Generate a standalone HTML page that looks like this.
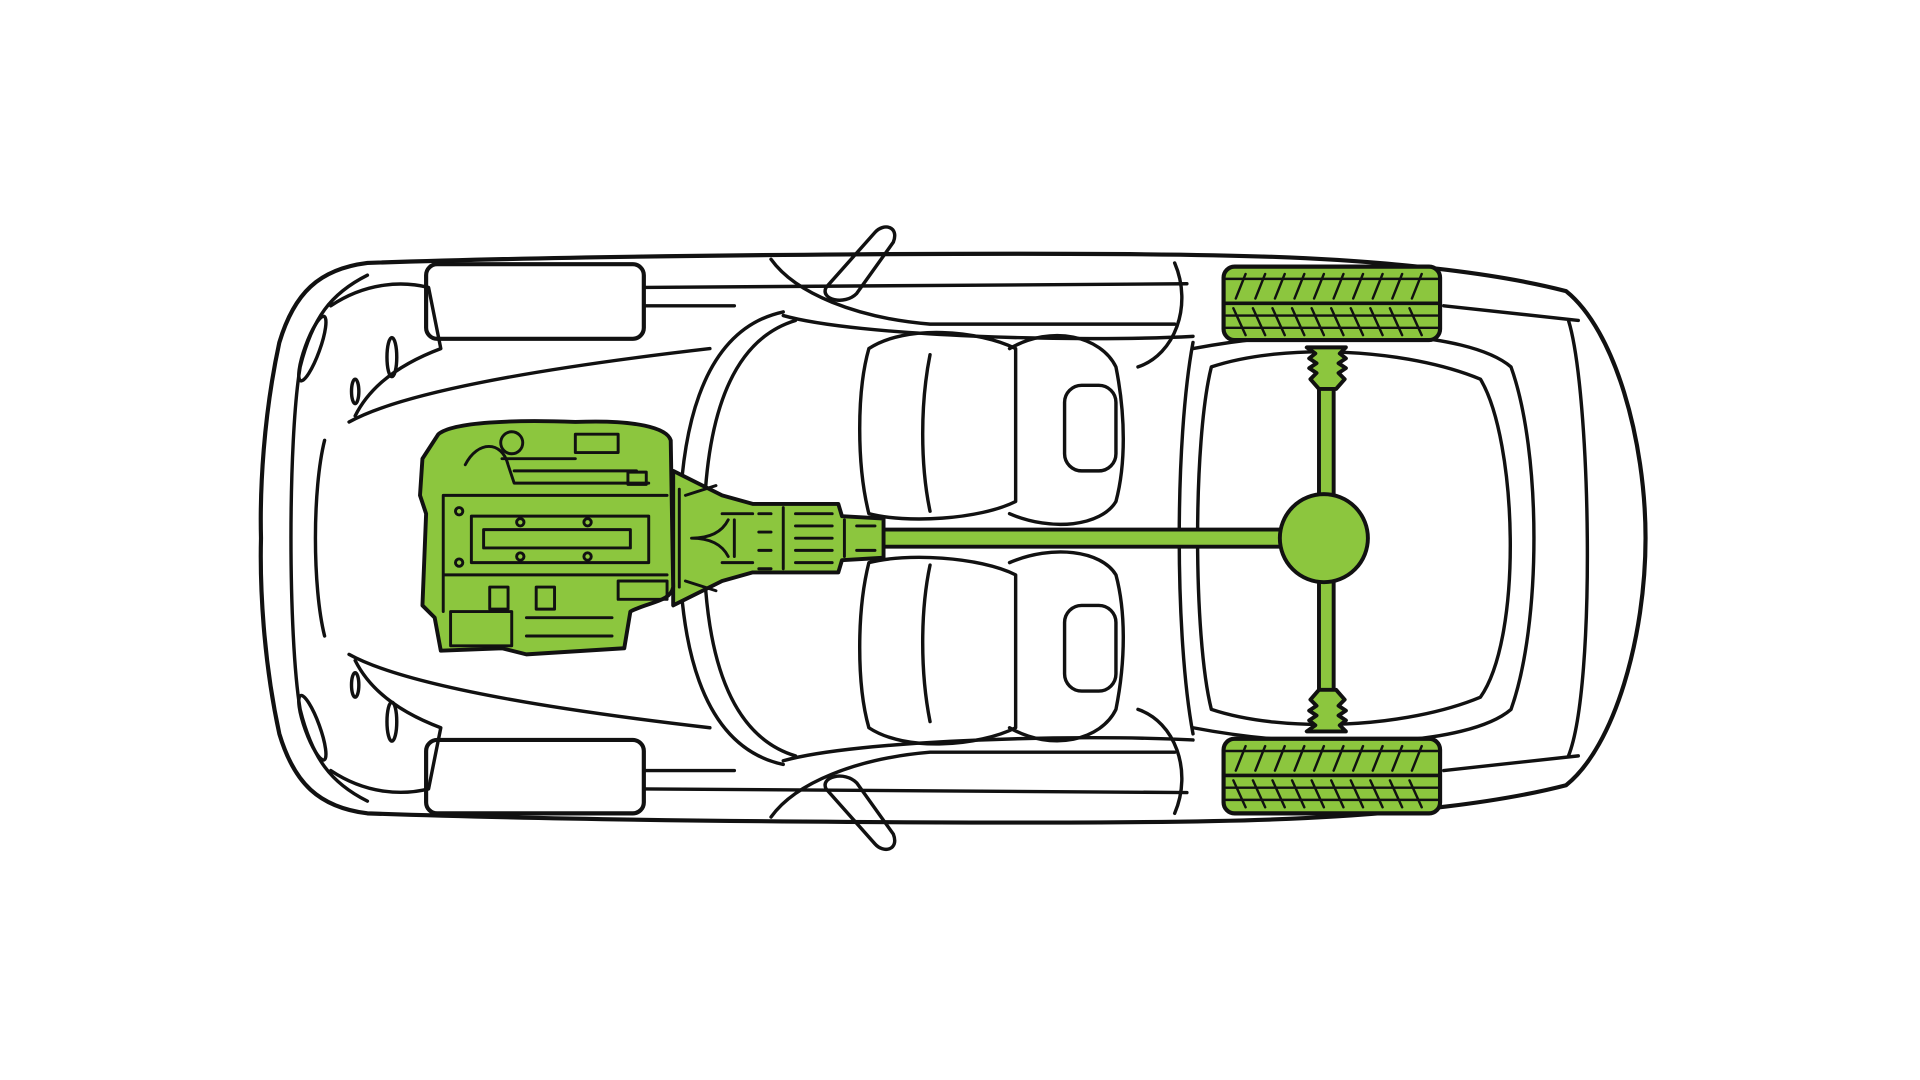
<!DOCTYPE html>
<html><head><style>html,body{margin:0;padding:0;background:#fff;width:1920px;height:1080px;overflow:hidden}</style></head>
<body>
<svg width="1920" height="1080" viewBox="0 0 1569 883" xmlns="http://www.w3.org/2000/svg" fill="none" stroke="#111" stroke-width="2.8" stroke-linecap="round" stroke-linejoin="round">
<path d="M300,215 C500,208 900,205 1040,210 C1150,214 1230,225 1280,238 C1320,270 1345,360 1345,440 C1345,520 1320,610 1280,642 C1230,655 1150,666 1040,670 C900,675 500,672 300,665 C260,660 240,640 228,600 C215,540 212,480 213,440 C212,400 215,340 228,280 C240,240 260,220 300,215 Z" stroke-width="3.4"/>
<path d="M300,225 C270,240 255,260 245,300 C235,360 235,520 245,580 C255,620 270,640 300,655"/>
<path d="M265,360 C255,400 255,480 265,520"/>
<path d="M285,345 C330,320 450,300 580,285"/><path d="M285,535 C330,560 450,580 580,595"/>
<path d="M270,250 C300,230 330,230 350,235 L360,285 C320,300 300,320 290,340"/>
<path d="M270,630 C300,650 330,650 350,645 L360,595 C320,580 300,560 290,540"/>
<ellipse cx="255" cy="285" rx="6" ry="28" transform="rotate(20 255 285)"/><ellipse cx="255" cy="595" rx="6" ry="28" transform="rotate(-20 255 595)"/>
<ellipse cx="320" cy="292" rx="4" ry="16"/><ellipse cx="320" cy="590" rx="4" ry="16"/>
<ellipse cx="290" cy="320" rx="3" ry="10"/><ellipse cx="290" cy="560" rx="3" ry="10"/>
<rect x="348" y="216" width="178" height="61" rx="9" stroke-width="3.4"/>
<rect x="348" y="605" width="178" height="60" rx="9" stroke-width="3.4"/>
<path d="M526,235 L970,232 M526,250 L600,250 M526,630 L600,630 M526,645 L970,648"/>
<path d="M630,212 C650,240 700,260 760,265 L960,265"/><path d="M630,668 C650,640 700,620 760,615 L960,615"/>
<path d="M960,215 C975,250 960,290 930,300 M960,665 C975,630 960,590 930,580"/>
<path d="M640,255 C570,270 555,360 555,440 C555,520 570,610 640,625"/>
<path d="M650,262 C590,280 575,360 575,440 C575,520 590,600 650,618"/>
<path d="M640,258 C700,275 880,280 975,275 M640,622 C700,605 880,600 975,605"/>
<path d="M975,280 C960,360 960,520 975,600"/>
<path d="M675,235 L715,190 C722,182 735,185 730,198 L700,240 C690,250 670,245 675,235 Z"/>
<path d="M675,645 L715,690 C722,698 735,695 730,682 L700,640 C690,630 670,635 675,645 Z"/>
<g id="seat">
<path d="M710,285 C740,265 800,270 830,285 L830,410 C800,425 740,428 710,420 C700,380 700,320 710,285 Z"/>
<path d="M825,285 C860,265 900,275 912,300 C920,340 920,380 912,410 C900,430 860,435 825,420"/>
<rect x="870" y="315" width="42" height="70" rx="14"/>
<path d="M760,290 C752,330 752,380 760,418"/>
</g>
<use href="#seat" transform="translate(0,880) scale(1,-1)"/>
<path d="M990,300 C1050,280 1150,285 1210,310 C1240,360 1245,520 1210,570 C1150,595 1050,600 990,580 C975,520 975,360 990,300 Z"/>
<path d="M975,285 C1080,265 1200,270 1235,300 C1260,370 1260,510 1235,580 C1200,610 1080,615 975,595"/>
<path d="M1180,250 L1290,262 M1180,630 L1290,618 M1282,262 C1300,320 1305,560 1282,618"/>
<g fill="#8cc63e" stroke-width="3.4">
<rect x="1000" y="218" width="177" height="60" rx="9"/>
<rect x="1000" y="604" width="177" height="61" rx="9"/>
</g>
<g stroke-width="2">
<path d="M1002,228 H1175 M1002,258 H1175 M1002,268 H1175 M1002,614 H1175 M1002,644 H1175 M1002,654 H1175"/>
<path d="M1000,248 H1177 M1000,634 H1177" stroke-width="3"/>
<path d="M1010,244 l8,-20 m8,20 l8,-20 m8,20 l8,-20 m8,20 l8,-20 m8,20 l8,-20 m8,20 l8,-20 m8,20 l8,-20 m8,20 l8,-20 m8,20 l8,-20 m8,20 l8,-20 M1008,252 l10,22 m6,-22 l10,22 m6,-22 l10,22 m6,-22 l10,22 m6,-22 l10,22 m6,-22 l10,22 m6,-22 l10,22 m6,-22 l10,22 m6,-22 l10,22 m6,-22 l10,22"/>
<path d="M1010,630 l8,-20 m8,20 l8,-20 m8,20 l8,-20 m8,20 l8,-20 m8,20 l8,-20 m8,20 l8,-20 m8,20 l8,-20 m8,20 l8,-20 m8,20 l8,-20 m8,20 l8,-20 M1008,638 l10,22 m6,-22 l10,22 m6,-22 l10,22 m6,-22 l10,22 m6,-22 l10,22 m6,-22 l10,22 m6,-22 l10,22 m6,-22 l10,22 m6,-22 l10,22 m6,-22 l10,22"/>
</g>
<g fill="#8cc63e" stroke-width="3.2">
<rect x="1078" y="310" width="12" height="265"/>
<path d="M1068,284 h32 l-5,5 l5,4 l-6,4 l6,4 l-6,4 l5,5 l-7,8 h-14 l-7,-8 l5,-5 l-6,-4 l6,-4 l-6,-4 l5,-4 z"/>
<path d="M1068,598 h32 l-5,-5 l5,-4 l-6,-4 l6,-4 l-6,-4 l5,-5 l-7,-8 h-14 l-7,8 l5,5 l-6,4 l6,4 l-6,4 l5,4 z"/>
<rect x="720" y="433" width="340" height="14"/>
<circle cx="1082" cy="440" r="36"/>
<path d="M550,385 L590,405 L615,412 L685,412 L688,422 L722,424 L722,456 L688,458 L685,468 L615,468 L590,475 L550,495 Z"/>
<path d="M358,355 C370,345 420,343 470,345 C520,343 545,350 548,360 L550,480 C548,492 530,492 515,500 L510,530 L430,535 L410,530 L360,532 L355,505 L345,495 L348,420 L343,405 L345,375 Z"/>
</g>
<g stroke-width="2.4">
<path d="M555,400 v80 M560,405 l25,-8 M560,475 l25,8 M565,440 c15,0 25,-5 30,-15 M565,440 c15,0 25,5 30,15"/>
<path d="M590,420 h25 M590,460 h25 M600,425 v30 M620,420 h10 M620,435 h10 M620,450 h10 M620,465 h10 M640,415 v50 M650,420 h30 M650,430 h30 M650,440 h30 M650,450 h30 M650,460 h30 M690,425 v30 M700,430 h15 M700,450 h15"/>
<path d="M362,405 H545 M362,405 V500 M362,470 H545"/>
<rect x="385" y="422" width="145" height="38"/><rect x="395" y="433" width="120" height="15"/>
<circle cx="375" cy="418" r="3"/><circle cx="375" cy="460" r="3"/>
<circle cx="425" cy="427" r="3"/><circle cx="480" cy="427" r="3"/><circle cx="425" cy="455" r="3"/><circle cx="480" cy="455" r="3"/>
<circle cx="418" cy="362" r="9"/><rect x="470" y="355" width="35" height="15"/><rect x="513" y="386" width="15" height="10"/>
<path d="M380,380 C390,360 410,360 415,380 L420,395 H530 M410,375 H470 M420,385 H520"/>
<rect x="505" y="475" width="40" height="15"/><rect x="400" y="480" width="15" height="18"/><rect x="438" y="480" width="15" height="18"/>
<rect x="368" y="500" width="50" height="28"/><path d="M430,505 H500 M430,520 H500"/>
</g>
</svg>
</body></html>
